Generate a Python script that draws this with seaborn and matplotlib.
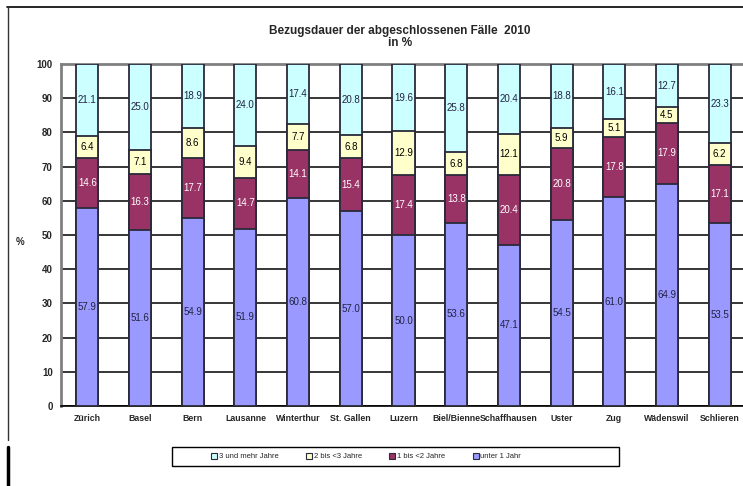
import matplotlib
matplotlib.use("Agg")
import matplotlib.pyplot as plt
from matplotlib.patches import Patch, Rectangle
from matplotlib.lines import Line2D
import seaborn as sns
import numpy as np
import pandas as pd

cities = ["Zürich", "Basel", "Bern", "Lausanne", "Winterthur", "St. Gallen", "Luzern",
          "Biel/Bienne", "Schaffhausen", "Uster", "Zug", "Wädenswil", "Schlieren"]
unter_1 = [57.9, 51.6, 54.9, 51.9, 60.8, 57.0, 50.0, 53.6, 47.1, 54.5, 61.0, 64.9, 53.5]
j1_2 = [14.6, 16.3, 17.7, 14.7, 14.1, 15.4, 17.4, 13.8, 20.4, 20.8, 17.8, 17.9, 17.1]
j2_3 = [6.4, 7.1, 8.6, 9.4, 7.7, 6.8, 12.9, 6.8, 12.1, 5.9, 5.1, 4.5, 6.2]
j3_plus = [21.1, 25.0, 18.9, 24.0, 17.4, 20.8, 19.6, 25.8, 20.4, 18.8, 16.1, 12.7, 23.3]

series_names = ["unter 1 Jahr", "1 bis <2 Jahre", "2 bis <3 Jahre", "3 und mehr Jahre"]
colors = ["#9999FF", "#993366", "#FFFFCC", "#CCFFFF"]
text_colors = ["#222244", "white", "black", "#222244"]

title = "Bezugsdauer der abgeschlossenen Fälle  2010\nin %"

sns.set_style("white")
plt.rcParams["font.family"] = ["Liberation Sans", "DejaVu Sans"]

fig = plt.figure(figsize=(7.43, 4.86), dpi=100)
ax = fig.add_axes([61 / 743, 1 - 406 / 486, 685 / 743, 342 / 486])

vals = np.array([unter_1, j1_2, j2_3, j3_plus])
cum = np.cumsum(vals, axis=0)

ax.set_axisbelow(True)
ax.yaxis.grid(True, color="black", linewidth=1.1)

for i in range(3, -1, -1):
    df = pd.DataFrame({"city": cities, "v": cum[i]})
    sns.barplot(data=df, x="city", y="v", order=cities, color=colors[i],
                width=0.42, edgecolor="#2a2a3a", linewidth=1.3, ax=ax,
                saturation=1, zorder=3)

for i in range(4):
    base = cum[i] - vals[i]
    for j in range(len(cities)):
        ax.text(j, base[j] + vals[i][j] / 2, f"{vals[i][j]:.1f}", ha="center", va="center",
                fontsize=7, color=text_colors[i], zorder=5)

ax.set_xlim(-0.5, 12.5)
ax.set_ylim(0, 100)
ax.set_yticks(range(0, 101, 10))
ax.set_yticklabels([str(v) for v in range(0, 101, 10)], fontsize=7, fontweight="bold")
ax.set_xticks(np.arange(-0.5, 12.5, 1), minor=True)
ax.set_xticks(range(len(cities)))
ax.set_xticklabels(cities, fontsize=6.3, fontweight="bold")
ax.tick_params(axis="x", which="major", length=0, pad=6)
ax.tick_params(axis="x", which="minor", length=3, width=1, color="black", direction="out")
ax.tick_params(axis="y", length=4, width=1, color="black", direction="out", pad=2)
ax.set_xlabel("")
ax.set_ylabel("")
for s in ["left", "top"]:
    ax.spines[s].set_color("#808080")
    ax.spines[s].set_linewidth(2)
ax.spines["right"].set_visible(False)
ax.spines["bottom"].set_color("black")
ax.spines["bottom"].set_linewidth(1.2)

fig.text(20 / 743, 1 - 242 / 486, "%", fontsize=7, fontweight="bold", ha="center", va="center")
fig.text(400 / 743, 1 - 37 / 486, title, fontsize=8.5, fontweight="bold", ha="center",
         va="center", linespacing=1.0)

# legend box
fig.add_artist(Rectangle((172 / 743, 1 - 466 / 486), 447 / 743, 19 / 486,
                         transform=fig.transFigure, facecolor="white", edgecolor="black",
                         linewidth=1.0, zorder=1))
handles = [Patch(facecolor=colors[i], edgecolor="#2a2a3a", linewidth=0.8, label=series_names[i])
           for i in [3, 2, 1, 0]]
leg = fig.legend(handles=handles, loc="center left", ncol=4,
                 bbox_to_anchor=(205 / 743, 1 - 456.5 / 486), fontsize=5.5,
                 frameon=False, handlelength=0.8, handleheight=0.8, handletextpad=0.2,
                 columnspacing=3.6, borderpad=0.3)
leg.set_zorder(2)

# outer frame lines
fig.add_artist(Line2D([7 / 743, 1], [1 - 7 / 486, 1 - 7 / 486], color="black", lw=1.2,
                      transform=fig.transFigure))
fig.add_artist(Line2D([8 / 743, 8 / 743], [1 - 7 / 486, 1 - 440 / 486], color="#333333", lw=1,
                      transform=fig.transFigure))
fig.add_artist(Line2D([8 / 743, 8 / 743], [1 - 447 / 486, 0], color="black", lw=2.5,
                      transform=fig.transFigure))

fig.savefig("out.png", dpi=100)
